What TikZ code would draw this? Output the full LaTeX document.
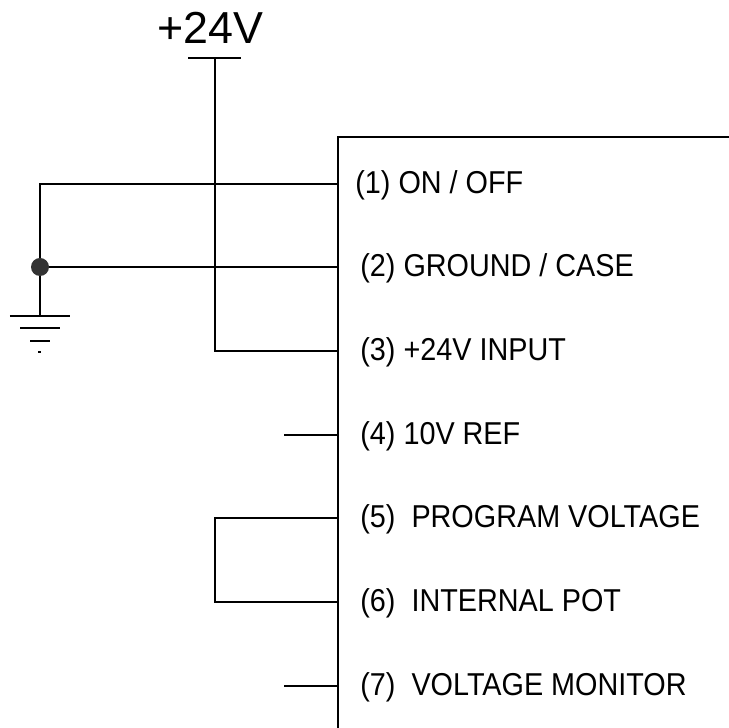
\documentclass[tikz,border=0pt]{standalone}
\usepackage{fontspec}
\setmainfont{Liberation Sans}
\newfontfamily\pinfont[FakeStretch=0.91]{Liberation Sans}
\tikzset{wire/.style={line width=0.7pt},
  pinlabel/.style={right,inner sep=0pt,font=\pinfont\fontsize{18}{18}\selectfont}}

\begin{document}
\begin{tikzpicture}
    \useasboundingbox (0,0) rectangle (14.58,14.56);
    \coordinate (tl) at (6.76,11.82);
    \coordinate (tr) at (14.58,11.82);
    \coordinate (bl) at (6.76,0);
    \coordinate (p1) at (6.76,10.88);
    \coordinate (p2) at (6.76,9.22);
    \coordinate (p3) at (6.76,7.54);
    \coordinate (p4) at (6.76,5.86);
    \coordinate (p5) at (6.76,4.20);
    \coordinate (p6) at (6.76,2.52);
    \coordinate (p7) at (6.76,0.84);
    \coordinate (c1) at (0.80,10.88);
    \coordinate (j) at (0.80,9.22);
    \coordinate (g) at (0.80,8.24);
    \coordinate (s) at (4.30,13.40);
    \coordinate (s3) at (4.30,7.54);
    \coordinate (s5) at (4.30,4.20);
    \coordinate (s6) at (4.30,2.52);
    \coordinate (f4) at (5.68,5.86);
    \coordinate (f7) at (5.68,0.84);

    \draw[line width=1pt](tr)--(tl)--(bl);
    \draw[wire](p1)--(c1)--(g);
    \draw[wire](j)--(p2);
    \draw[wire](s)--(s3)--(p3);
    \draw[wire](f4)--(p4);
    \draw[wire](p5)--(s5)--(s6)--(p6);
    \draw[wire](f7)--(p7);

    % supply bar
    \draw[wire](3.76,13.40)--(4.82,13.40);
    \node (vcc) at (4.21,14.00) {\fontsize{25.5}{26}\selectfont +24V};

    % junction and ground
    \fill[black!80] (j) circle (0.18);
    \draw[wire](0.20,8.24)--(1.40,8.24);
    \draw[wire](0.40,8.00)--(1.20,8.00);
    \draw[wire](0.60,7.74)--(1.00,7.74);
    \draw[wire](0.76,7.52)--(0.82,7.52);

    \node[pinlabel] (l1) at (7.10,10.86) {(1) ON / OFF};
    \node[pinlabel] (l2) at (7.20,9.20) {(2) GROUND / CASE};
    \node[pinlabel] (l3) at (7.20,7.52) {(3) +24V INPUT};
    \node[pinlabel] (l4) at (7.20,5.84) {(4) 10V REF};
    \node[pinlabel] (l5) at (7.20,4.18) {(5)\ \ PROGRAM VOLTAGE};
    \node[pinlabel] (l6) at (7.20,2.50) {(6)\ \ INTERNAL POT};
    \node[pinlabel] (l7) at (7.20,0.82) {(7)\ \ VOLTAGE MONITOR};
  \end{tikzpicture}
\end{document}
